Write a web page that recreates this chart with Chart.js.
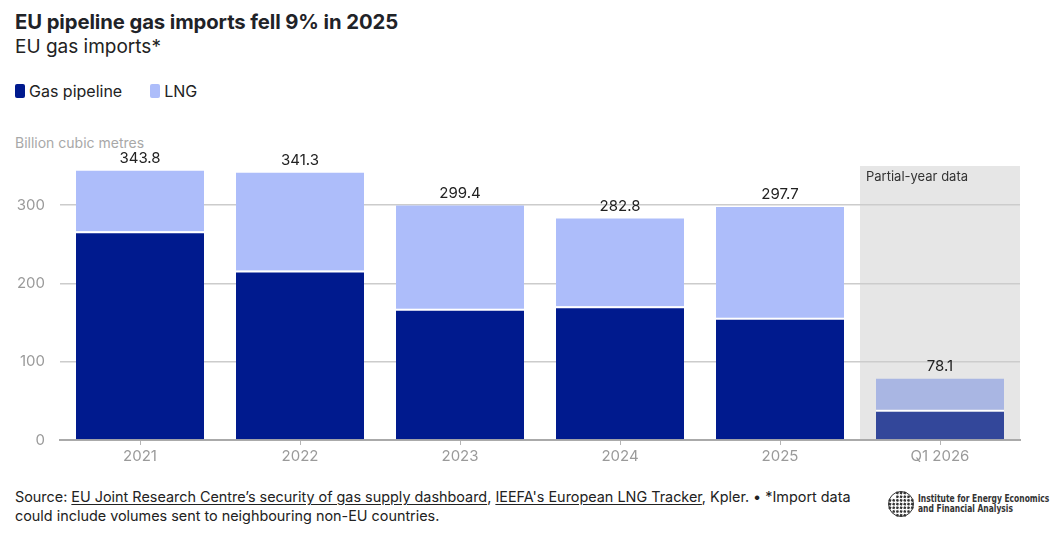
<!DOCTYPE html>
<html>
<head>
<meta charset="utf-8">
<script src="https://cdn.jsdelivr.net/npm/chart.js@4.4.1/dist/chart.umd.min.js"></script>
<style>
  html,body{margin:0;padding:0;background:#fff;}
  body{width:1057px;height:548px;position:relative;overflow:hidden;font-family:Inter,"Noto Sans",sans-serif;color:#222;}
  #title{position:absolute;left:15px;top:9px;font-size:20.3px;font-weight:700;color:#1f2328;letter-spacing:-0.1px;}
  #subtitle{position:absolute;left:15px;top:35px;font-size:19px;font-weight:400;color:#222;}
  #legend{position:absolute;left:15px;top:81px;font-size:16px;color:#222;display:flex;align-items:center;}
  .sw{display:inline-block;width:10px;height:14px;border-radius:2px;margin-right:4px;vertical-align:middle;}
  .li{display:flex;align-items:center;margin-right:28px;}
  #unit{position:absolute;left:15px;top:134px;font-size:14px;color:#a8a8a8;}
  #wrap{position:absolute;left:0;top:130px;width:1057px;height:340px;}
  #footer{position:absolute;left:15px;top:487px;font-size:14.4px;line-height:19px;color:#222;width:860px;}
  #footer u{text-decoration:underline;text-underline-offset:2px;}
  #logo{position:absolute;left:888px;top:489px;display:flex;align-items:center;white-space:nowrap;}
  #logo .t{font-family:"Liberation Sans Narrow","DejaVu Sans Condensed",sans-serif;font-size:10px;font-weight:700;line-height:10px;color:#333;margin-left:4px;transform:scaleX(0.84);transform-origin:left center;}
</style>
</head>
<body>
<div id="title">EU pipeline gas imports fell 9% in 2025</div>
<div id="subtitle">EU gas imports*</div>
<div id="legend">
  <span class="li"><span class="sw" style="background:#001a8e"></span>Gas pipeline</span>
  <span class="li"><span class="sw" style="background:#adbdfa"></span>LNG</span>
</div>
<div id="unit">Billion cubic metres</div>
<div id="wrap"><canvas id="c"></canvas></div>
<div id="footer">Source: <u>EU Joint Research Centre’s security of gas supply dashboard</u>, <u>IEEFA's European LNG Tracker</u>, Kpler. • *Import data could include volumes sent to neighbouring non-EU countries.</div>
<div id="logo">
  <svg width="26" height="30" viewBox="0 0 26 30">
    <circle cx="13" cy="15" r="12.5" fill="none" stroke="#333" stroke-width="1"/>
    <g id="dots" fill="#333"></g>
  </svg>
  <div class="t">Institute for Energy Economics<br>and Financial Analysis</div>
</div>
<script>
// ---- data ----
const categories = ["2021", "2022", "2023", "2024", "2025", "Q1 2026"];
const pipeline   = [266.7, 216.4, 167.7, 170.7, 156.2, 38.8];
const lng        = [77.1, 124.9, 131.7, 112.1, 141.5, 39.3];
const totals     = [343.8, 341.3, 299.4, 282.8, 297.7, 78.1];
const yTicks     = [0, 100, 200, 300];
const partialLabel = "Partial-year data";

// logo dots
(function(){
  const g = document.getElementById('dots');
  let s = '';
  for (let r = 0; r < 7; r++) {
    for (let c = 0; c < 7; c++) {
      const x = 2 + c * 3.7, y = 4 + r * 3.7;
      const dx = x - 13, dy = y - 15;
      if (dx*dx + dy*dy < 140 && !(dx < -4 && dy < -4)) {
        s += `<rect x="${x-1.2}" y="${y-1.2}" width="2.4" height="2.4" transform="rotate(20 ${x} ${y})"/>`;
      }
    }
  }
  g.innerHTML = s;
})();

const pipeColors = categories.map((c,i)=> i === 5 ? '#33479a' : '#001a8e');
const lngColors  = categories.map((c,i)=> i === 5 ? '#a9b6e3' : '#adbdfa');

const bandPlugin = {
  id: 'band',
  beforeDraw(chart) {
    const {ctx, chartArea, scales:{x}} = chart;
    const idx = 5;
    const w = x.getPixelForValue(1) - x.getPixelForValue(0);
    const cx = x.getPixelForValue(idx);
    const left = cx - w/2, right = Math.min(cx + w/2, chartArea.right);
    ctx.save();
    ctx.fillStyle = '#e6e6e6';
    ctx.fillRect(left, chartArea.top, right - left, chartArea.bottom - chartArea.top);
    ctx.fillStyle = '#333';
    ctx.font = '13px Inter, "Noto Sans", sans-serif';
    ctx.textBaseline = 'top';
    ctx.textAlign = 'left';
    ctx.fillText(partialLabel, left + 6, chartArea.top + 5);
    ctx.restore();
  }
};

const totalsPlugin = {
  id: 'totals',
  afterDatasetsDraw(chart) {
    const {ctx, scales:{x,y}} = chart;
    ctx.save();
    ctx.fillStyle = '#222';
    ctx.font = '15px Inter, "Noto Sans", sans-serif';
    ctx.textAlign = 'center';
    ctx.textBaseline = 'bottom';
    totals.forEach((t,i)=>{
      ctx.fillText(t.toFixed(1), x.getPixelForValue(i), y.getPixelForValue(t) - 5);
    });
    ctx.restore();
  }
};

new Chart(document.getElementById('c'), {
  type: 'bar',
  data: {
    labels: categories,
    datasets: [
      { label: 'Gas pipeline', data: pipeline, backgroundColor: pipeColors,
        borderColor: '#ffffff', borderWidth: {top: 2, left:0, right:0, bottom:0}, borderSkipped: false },
      { label: 'LNG', data: lng, backgroundColor: lngColors, borderWidth: 0 }
    ]
  },
  options: {
    responsive: true,
    maintainAspectRatio: false,
    animation: false,
    layout: { padding: { top: 36, right: 37, left: 0, bottom: 3 } },
    plugins: { legend: { display: false }, tooltip: { enabled: false } },
    datasets: { bar: { barPercentage: 0.8, categoryPercentage: 1.0 } },
    scales: {
      x: {
        stacked: true,
        grid: { display: true, drawOnChartArea: false, drawTicks: true, tickLength: 5, offset: false, color: '#b5b5b5' },
        border: { display: true, color: '#aaaaaa', width: 2 },
        ticks: { color: '#9a9a9a', font: { size: 15, family: 'Inter, "Noto Sans", sans-serif' }, padding: 2 }
      },
      y: {
        stacked: true,
        min: 0, max: 350,
        afterFit(s) { s.width = 60; },
        afterBuildTicks(s) { s.ticks = yTicks.map(v => ({ value: v })); },
        grid: { color: '#cccccc', lineWidth: 1.5, drawTicks: false },
        border: { display: false },
        ticks: { color: '#9a9a9a', font: { size: 15, family: 'Inter, "Noto Sans", sans-serif' }, padding: 15 }
      }
    }
  },
  plugins: [bandPlugin, totalsPlugin]
});
</script>
</body>
</html>
